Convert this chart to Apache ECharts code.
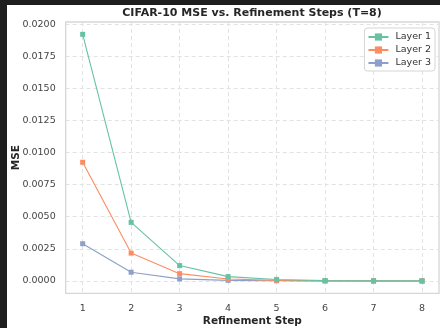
<!DOCTYPE html>
<html><head><meta charset="utf-8">
<script src="https://cdn.jsdelivr.net/npm/echarts@6/dist/echarts.min.js"></script>
<style>
html,body{margin:0;padding:0;background:#1e1e1e;width:440px;height:328px;overflow:hidden;}
#c{position:absolute;left:7px;top:5px;width:433px;height:323px;background:#fff;}
</style></head><body><div id="c"></div>
<script>
const steps = [1, 2, 3, 4, 5, 6, 7, 8];
const layer1 = [0.0192, 0.00456, 0.0012, 0.00034, 0.00012, 0.00003, 0.00001, 0.000005];
const layer2 = [0.00924, 0.00217, 0.00057, 0.00015, 0.00005, 0.00001, 0.000005, 0.000002];
const layer3 = [0.0029, 0.00068, 0.00016, 0.00005, 0.00002, 0.000005, 0.000002, 0.000001];
const yTicks = [0, 0.0025, 0.005, 0.0075, 0.01, 0.0125, 0.015, 0.0175, 0.02];
const seriesNames = ['Layer 1', 'Layer 2', 'Layer 3'];
const colors = ['#66c2a5', '#fc8d62', '#8da0cb'];
const font = 'DejaVu Sans';

const chart = echarts.init(document.getElementById('c'), null, {renderer: 'canvas'});
const pair = arr => steps.map((s, i) => [s, arr[i]]);
const data = [layer1, layer2, layer3];
chart.setOption({
  animation: false,
  textStyle: {fontFamily: font},
  title: {
    text: 'CIFAR-10 MSE vs. Refinement Steps (T=8)',
    left: 245, textAlign: 'center', top: 3, padding: 0,
    textStyle: {fontFamily: font, fontSize: 11, fontWeight: 'bold', color: '#262626'}
  },
  legend: {
    data: seriesNames,
    right: 5, top: 23, orient: 'vertical',
    backgroundColor: '#fff', borderColor: '#d5d5d5', borderWidth: 1, borderRadius: 3,
    padding: [4, 4, 3, 3], itemGap: 3, itemWidth: 20, itemHeight: 9,
    textStyle: {fontFamily: font, fontSize: 9.5, color: '#333', padding: [0, 0, 0, 2]}
  },
  grid: {
    left: 58.7, right: 1, top: 17, bottom: 34.7,
    outerBoundsMode: 'none', containLabel: false,
    show: true, borderColor: '#d6d6d6', borderWidth: 1.3, backgroundColor: '#fff'
  },
  xAxis: {
    type: 'value', min: 0.65, max: 8.35,
    name: 'Refinement Step', nameLocation: 'middle', nameGap: 22, nameMoveOverlap: false,
    nameTextStyle: {fontFamily: font, fontSize: 10.5, fontWeight: 'bold', color: '#262626'},
    axisLine: {show: false},
    axisTick: {show: false, customValues: steps},
    axisLabel: {customValues: steps, fontFamily: font, fontSize: 9.5, color: '#444', margin: 10},
    splitLine: {show: true, lineStyle: {color: '#e2e2e2', type: [4, 3], width: 1}}
  },
  yAxis: {
    type: 'value', min: -0.00096, max: 0.02016,
    name: 'MSE', nameLocation: 'middle', nameGap: 44, nameMoveOverlap: false,
    nameTextStyle: {fontFamily: font, fontSize: 10.5, fontWeight: 'bold', color: '#262626'},
    axisLine: {show: false},
    axisTick: {show: false, customValues: yTicks},
    axisLabel: {customValues: yTicks, fontFamily: font, fontSize: 9.5, color: '#444', margin: 10,
      formatter: v => v.toFixed(4)},
    splitLine: {show: true, lineStyle: {color: '#e2e2e2', type: [4, 3], width: 1}}
  },
  series: seriesNames.map((n, i) => ({
    name: n, type: 'line', data: pair(data[i]),
    symbol: 'rect', symbolSize: 5, showAllSymbol: true,
    lineStyle: {color: colors[i], width: 1.1},
    itemStyle: {color: colors[i]},
    z: 3 - i
  }))
});
</script></body></html>
